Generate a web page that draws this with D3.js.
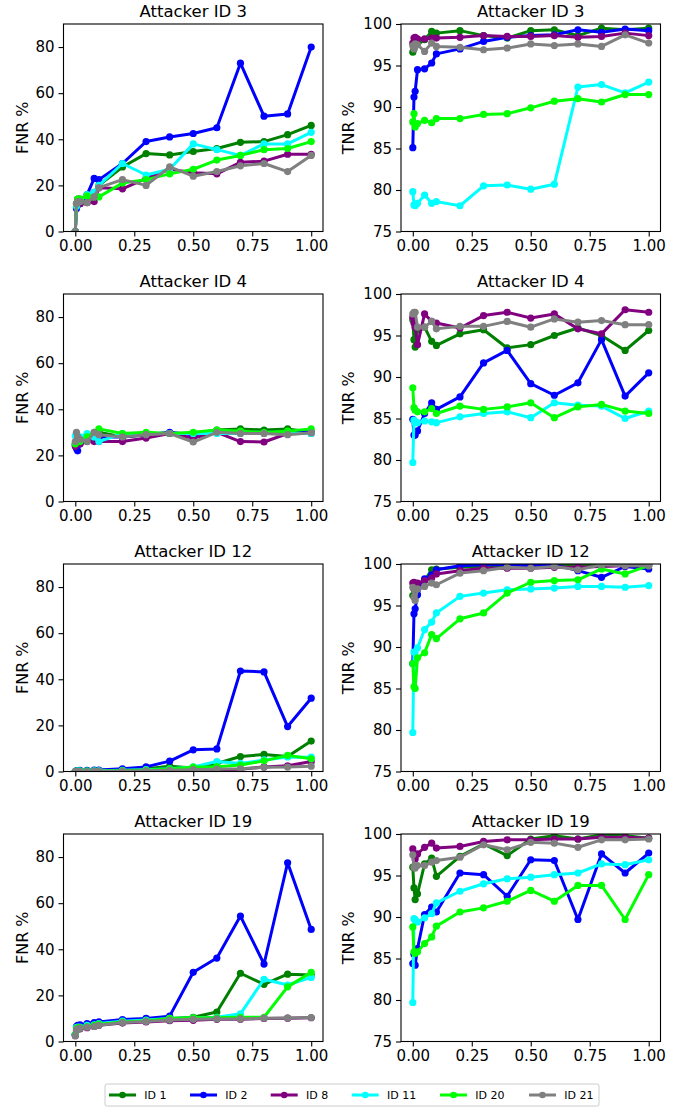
<!DOCTYPE html>
<html><head><meta charset="utf-8">
<script src="https://cdn.jsdelivr.net/npm/d3@7"></script>
<style>body{margin:0;background:#fff}svg{display:block;font-family:"DejaVu Sans",sans-serif}</style>
</head><body>
<svg id="c" width="686" height="1109"></svg>
<script>
// ---------- data ----------
const xValues = [0, 0.005, 0.01, 0.02, 0.05, 0.08, 0.1, 0.2, 0.3, 0.4, 0.5, 0.6, 0.7, 0.8, 0.9, 1.0];
const seriesNames = ["ID 1", "ID 2", "ID 8", "ID 11", "ID 20", "ID 21"];
const seriesColors = ["#008000", "#0000ff", "#800080", "#00ffff", "#00ff00", "#808080"];
const attackers = ["Attacker ID 3", "Attacker ID 4", "Attacker ID 12", "Attacker ID 19"];
const xTicks = [0, 0.25, 0.5, 0.75, 1.0];
const fnrTicks = [0, 20, 40, 60, 80];
const tnrTicks = [75, 80, 85, 90, 95, 100];

// FNR, attacker 3: ID1, ID2, ID8, ID11, ID20, ID21
const fnrA3_id1  = [0, 12, 14, 14, 15, 17, 20, 28, 33.8, 33.2, 34.7, 36, 38.7, 39, 42, 46];
const fnrA3_id2  = [0, 10, 12, 12, 16, 23, 22.5, 29.5, 39, 41, 42.5, 45, 73, 50, 51, 80];
const fnrA3_id8  = [0, 12, 13, 12, 12.5, 13, 19, 18.5, 23, 27, 25.5, 25, 30, 30.5, 33.5, 33.5];
const fnrA3_id11 = [0, 11, 13, 13, 16, 17, 20, 29.5, 24.5, 27, 38, 35.5, 33, 38, 38, 43];
const fnrA3_id20 = [0, 12, 14, 14, 15.5, 15, 15, 21, 22.5, 25, 27, 31, 33, 35.5, 36, 39];
const fnrA3_id21 = [0, 12, 13, 13, 12.5, 15, 19, 22.5, 20, 28, 24, 26, 28.5, 29.5, 26, 33];

// TNR, attacker 3
const tnrA3_id1  = [96.6, 97.0, 98.0, 97.5, 98.1, 99.1, 98.9, 99.2, 98.6, 98.3, 99.2, 99.3, 98.6, 99.5, 99.3, 99.5];
const tnrA3_id2  = [85.1, 91.2, 91.9, 94.5, 94.6, 95.3, 96.4, 97.0, 97.9, 98.4, 98.6, 98.7, 99.3, 99.0, 99.4, 99.2];
const tnrA3_id8  = [97.7, 98.3, 98.4, 98.2, 98.2, 98.3, 98.3, 98.4, 98.6, 98.5, 98.5, 98.6, 98.4, 98.5, 98.9, 98.6];
const tnrA3_id11 = [79.8, 78.2, 78.1, 78.4, 79.4, 78.4, 78.6, 78.1, 80.5, 80.6, 80.1, 80.7, 92.4, 92.7, 91.7, 93.0];
const tnrA3_id20 = [88.2, 89.2, 87.6, 88.0, 88.4, 88.1, 88.6, 88.6, 89.1, 89.2, 89.9, 90.7, 91.0, 90.6, 91.5, 91.5];
const tnrA3_id21 = [97.4, 97.0, 97.6, 97.5, 96.7, 97.7, 97.3, 97.2, 96.9, 97.1, 97.6, 97.4, 97.6, 97.3, 98.7, 97.7];

// FNR, attacker 4
const fnrA4_id1  = [25, 26, 25, 26, 27, 29, 30, 28, 29, 29.5, 29.5, 31, 31.5, 31, 31.5, 30];
const fnrA4_id2  = [24.5, 23, 22, 25, 27, 29, 28, 28, 29, 30, 29, 30, 30, 30, 30, 30];
const fnrA4_id8  = [24, 25, 26, 25, 26, 26, 26, 26, 27.5, 29.5, 27.5, 30, 26, 25.8, 29.5, 29.5];
const fnrA4_id11 = [28.5, 28, 27, 28, 29.5, 28, 26, 29.5, 29.5, 29.5, 29.5, 29.5, 29.5, 29.5, 29.5, 29.5];
const fnrA4_id20 = [25, 26, 27, 26, 28, 30, 31.5, 29.5, 30, 29.5, 30, 31, 30.5, 30, 30.5, 31.5];
const fnrA4_id21 = [26, 30, 28, 27, 26, 30, 29, 28, 29, 29.5, 25.8, 30, 29.5, 29.5, 29, 29.8];

// TNR, attacker 4
const tnrA4_id1  = [96.9, 94.5, 93.6, 95.7, 96.0, 94.3, 93.8, 95.2, 95.7, 93.5, 93.9, 95.0, 95.9, 95.0, 93.2, 95.6];
const tnrA4_id2  = [84.9, 83.0, 83.0, 83.5, 85.6, 86.9, 86.1, 87.6, 91.7, 93.2, 89.2, 87.8, 89.3, 94.5, 87.7, 90.5];
const tnrA4_id8  = [97.2, 96.5, 96.0, 93.9, 97.6, 96.7, 96.5, 95.9, 97.4, 97.8, 97.1, 97.6, 95.8, 95.2, 98.1, 97.8];
const tnrA4_id11 = [79.7, 84.8, 84.5, 84.5, 84.7, 84.6, 84.5, 85.2, 85.6, 85.8, 85.1, 86.9, 86.6, 86.5, 85.0, 85.9];
const tnrA4_id20 = [88.7, 86.3, 86.0, 85.8, 85.8, 86.2, 85.6, 86.5, 86.1, 86.4, 86.9, 85.1, 86.4, 86.7, 85.9, 85.6];
const tnrA4_id21 = [97.6, 97.8, 97.8, 96.0, 96.0, 96.7, 95.8, 96.1, 96.1, 96.7, 96.0, 97.0, 96.6, 96.8, 96.3, 96.3];

// FNR, attacker 12
const fnrA12_id1  = [0, 0.2, 0.3, 0.3, 0.3, 0.4, 0.4, 0.8, 1.2, 2.3, 1.5, 3.5, 6.5, 7.4, 6.5, 13.2];
const fnrA12_id2  = [0, 0.3, 0.4, 0.5, 0.5, 0.6, 0.6, 1.2, 2, 4.5, 9.4, 9.8, 43.6, 43.2, 19.5, 31.8];
const fnrA12_id8  = [0, 0, 0, 0, 0, 0.1, 0.1, 0.2, 0.3, 0.4, 0.6, 0.8, 1.0, 2.0, 2.5, 4.3];
const fnrA12_id11 = [0, 0.2, 0.2, 0.2, 0.2, 0.3, 0.3, 0.5, 0.8, 1.2, 2.0, 4.3, 3.5, 5.0, 6.3, 6.2];
const fnrA12_id20 = [0, 0.1, 0.1, 0.2, 0.2, 0.2, 0.2, 0.4, 0.6, 1.0, 1.9, 2.1, 2.8, 4.6, 7.0, 5.5];
const fnrA12_id21 = [0, 0, 0, 0, 0, 0.1, 0.1, 0.2, 0.3, 0.5, 0.8, 1.0, 1.2, 1.8, 1.9, 2.3];

// TNR, attacker 12
const tnrA12_id1  = [96.2, 97.0, 97.5, 97.6, 98.0, 99.3, 99.4, 99.6, 99.7, 99.8, 99.8, 99.9, 99.8, 99.9, 99.9, 99.9];
const tnrA12_id2  = [88.0, 94.0, 94.6, 96.3, 98.2, 98.7, 99.3, 99.8, 99.9, 99.9, 99.8, 99.9, 99.2, 98.4, 99.7, 99.4];
const tnrA12_id8  = [97.7, 97.8, 97.6, 97.7, 98.0, 98.3, 98.8, 99.2, 99.5, 99.5, 99.5, 99.6, 99.6, 99.7, 99.8, 99.8];
const tnrA12_id11 = [79.7, 89.4, 89.4, 89.9, 92.1, 93.0, 94.1, 96.1, 96.5, 96.9, 97.0, 97.1, 97.3, 97.3, 97.2, 97.4];
const tnrA12_id20 = [88.0, 85.2, 85.0, 88.7, 89.3, 91.5, 91.0, 93.4, 94.1, 96.5, 97.8, 98.0, 98.1, 99.4, 98.8, 99.8];
const tnrA12_id21 = [97.2, 96.0, 95.6, 97.0, 97.3, 97.7, 97.5, 98.9, 99.2, 99.6, 99.5, 99.7, 99.3, 99.9, 99.8, 99.8];

// FNR, attacker 19
const fnrA19_id1  = [3, 6, 6.5, 6.5, 7, 7.5, 8, 9, 9.5, 10, 10.5, 12.8, 29.6, 24.8, 29.2, 28.8];
const fnrA19_id2  = [3, 6.5, 7, 7.2, 7.8, 8.2, 8.5, 9.5, 10, 11, 30, 36.2, 54.4, 33.6, 77.5, 48.6];
const fnrA19_id8  = [2.5, 5, 5.5, 5.5, 6, 6.5, 7, 8, 8.5, 9, 9.2, 9.6, 9.7, 10, 10.1, 10.3];
const fnrA19_id11 = [3, 6, 6.2, 6.3, 7, 7.2, 7.8, 8.8, 9.3, 10, 10.2, 10.5, 12, 27, 24.5, 27.8];
const fnrA19_id20 = [3, 5.5, 6, 6, 6.5, 7, 7.5, 8.5, 9, 10, 10.3, 10.3, 10.5, 10.5, 23.7, 30];
const fnrA19_id21 = [2.5, 5, 5.5, 5.8, 6.2, 6.5, 7, 8.2, 8.7, 9.3, 9.6, 9.8, 9.8, 10.1, 10.2, 10.4];

// TNR, attacker 19
const tnrA19_id1  = [96.0, 93.5, 92.1, 92.8, 96.4, 97.1, 94.9, 97.3, 98.8, 97.4, 99.4, 99.8, 99.4, 99.9, 99.8, 99.5];
const tnrA19_id2  = [84.4, 85.5, 84.2, 86.2, 90.3, 91.2, 90.6, 95.3, 95.1, 92.5, 96.9, 96.8, 89.7, 97.6, 95.3, 97.7];
const tnrA19_id8  = [98.2, 97.5, 97.0, 97.6, 98.4, 98.9, 98.3, 98.5, 99.1, 99.3, 99.3, 99.4, 99.4, 99.6, 99.6, 99.5];
const tnrA19_id11 = [79.7, 89.8, 89.7, 89.4, 89.9, 90.4, 91.7, 93.1, 94.0, 94.6, 94.8, 95.1, 95.3, 96.4, 96.3, 96.9];
const tnrA19_id20 = [88.8, 85.8, 85.6, 85.8, 86.8, 87.6, 88.9, 90.6, 91.1, 91.9, 93.2, 91.9, 93.8, 93.8, 89.7, 95.1];
const tnrA19_id21 = [97.5, 96.0, 95.9, 96.2, 96.2, 96.6, 96.8, 97.2, 98.7, 98.1, 99.0, 98.9, 98.4, 99.3, 99.3, 99.4];

const fnrData = [
  [fnrA3_id1, fnrA3_id2, fnrA3_id8, fnrA3_id11, fnrA3_id20, fnrA3_id21],
  [fnrA4_id1, fnrA4_id2, fnrA4_id8, fnrA4_id11, fnrA4_id20, fnrA4_id21],
  [fnrA12_id1, fnrA12_id2, fnrA12_id8, fnrA12_id11, fnrA12_id20, fnrA12_id21],
  [fnrA19_id1, fnrA19_id2, fnrA19_id8, fnrA19_id11, fnrA19_id20, fnrA19_id21]
];
const tnrData = [
  [tnrA3_id1, tnrA3_id2, tnrA3_id8, tnrA3_id11, tnrA3_id20, tnrA3_id21],
  [tnrA4_id1, tnrA4_id2, tnrA4_id8, tnrA4_id11, tnrA4_id20, tnrA4_id21],
  [tnrA12_id1, tnrA12_id2, tnrA12_id8, tnrA12_id11, tnrA12_id20, tnrA12_id21],
  [tnrA19_id1, tnrA19_id2, tnrA19_id8, tnrA19_id11, tnrA19_id20, tnrA19_id21]
];

// ---------- layout ----------
const svg = d3.select("#c");
const colX = [63.5, 401];
const axW = 259.5, axH = 207.5;
const rowY = [24, 294, 564, 834];
const tickFont = 15, titleFont = 16.5, labelFont = 16;

function panel(left, top, title, yLabel, yDomain, yTicks, series, labelX) {
  const g = svg.append("g").attr("transform", `translate(${left},${top})`);
  const x = d3.scaleLinear().domain([-0.05, 1.05]).range([0, axW]);
  const y = d3.scaleLinear().domain(yDomain).range([axH, 0]);

  const clip = "clip" + Math.round(left) + "_" + Math.round(top);
  g.append("clipPath").attr("id", clip).append("rect").attr("width", axW).attr("height", axH);

  const line = d3.line().x((d, i) => x(xValues[i])).y(d => y(d));
  const plot = g.append("g").attr("clip-path", `url(#${clip})`);
  series.forEach((vals, si) => {
    const s = plot.append("g");
    s.append("path").datum(vals).attr("d", line).attr("fill", "none")
      .attr("stroke", seriesColors[si]).attr("stroke-width", 3).attr("stroke-linejoin", "round");
    s.selectAll("circle").data(vals).join("circle")
      .attr("cx", (d, i) => x(xValues[i])).attr("cy", d => y(d)).attr("r", 3.6)
      .attr("fill", seriesColors[si]);
  });

  // axes
  const xa = g.append("g").attr("transform", `translate(0,${axH})`)
    .call(d3.axisBottom(x).tickValues(xTicks).tickFormat(d3.format(".2f")).tickSize(5).tickPadding(4));
  const ya = g.append("g")
    .call(d3.axisLeft(y).tickValues(yTicks).tickFormat(d3.format("d")).tickSize(5).tickPadding(4));
  [xa, ya].forEach(a => {
    a.select(".domain").remove();
    a.selectAll("line").attr("stroke", "#000").attr("stroke-width", 1.1);
    a.selectAll("text").attr("font-size", tickFont).attr("fill", "#000")
      .attr("font-family", "DejaVu Sans, sans-serif");
  });
  g.append("rect").attr("width", axW).attr("height", axH).attr("fill", "none")
    .attr("stroke", "#000").attr("stroke-width", 1.1);

  g.append("text").attr("x", axW / 2).attr("y", -7).attr("text-anchor", "middle")
    .attr("font-size", titleFont).attr("fill", "#000").text(title);
  g.append("text").attr("transform", `translate(${labelX},${axH / 2}) rotate(-90)`)
    .attr("text-anchor", "middle").attr("font-size", labelFont).attr("fill", "#000").text(yLabel);
}

attackers.forEach((t, r) => {
  panel(colX[0], rowY[r], t, "FNR %", [0, 90], fnrTicks, fnrData[r], -36);
  panel(colX[1], rowY[r], t, "TNR %", [75, 100], tnrTicks, tnrData[r], -47);
});

// ---------- legend ----------
const lg = svg.append("g").attr("transform", "translate(105,1084)");
lg.append("rect").attr("width", 494).attr("height", 22).attr("rx", 2)
  .attr("fill", "#fff").attr("stroke", "#ccc").attr("stroke-width", 1);
const legendX = [4, 85, 165.7, 246.7, 335, 424];
seriesNames.forEach((n, i) => {
  const e = lg.append("g").attr("transform", `translate(${legendX[i]},11)`);
  e.append("line").attr("x1", 0).attr("x2", 27).attr("stroke", seriesColors[i]).attr("stroke-width", 3);
  e.append("circle").attr("cx", 13.5).attr("r", 3.3).attr("fill", seriesColors[i]);
  e.append("text").attr("x", 35.3).attr("y", 4).attr("font-size", 11).attr("fill", "#000").text(n);
});
</script>
</body></html>
